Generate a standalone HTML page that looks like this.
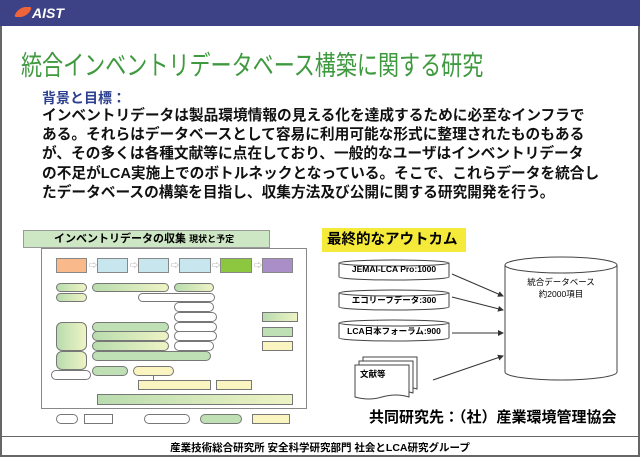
<!DOCTYPE html>
<html><head><meta charset="utf-8"><style>
*{margin:0;padding:0;box-sizing:border-box}
body{width:640px;height:457px;position:relative;background:#fff;font-family:"Liberation Sans","Noto Sans CJK JP",sans-serif;overflow:hidden}
.a{position:absolute}
.p{position:absolute;border:1px solid #777;border-radius:6px}
.g{background:linear-gradient(90deg,#b9dcae,#eef3c4)}
.gg{background:#bfe0b4}
.y{background:#faf5c0}
.w{background:#fff}
.r{border-radius:0}
</style></head><body>
<div class="a" style="left:0;top:0;width:640px;height:457px;border:2px solid #666"></div>
<div class="a" style="left:0;top:0;width:640px;height:26px;background:#3d4185"></div>
<div class="a" style="left:16px;top:7px;width:14px;height:10px;background:#f0643c;border-radius:8px 2px 8px 2px;transform:skewX(-20deg)"></div>
<div class="a" style="left:32px;top:5px;color:#fff;font-weight:bold;font-style:italic;font-size:14px">AIST</div>
<div class="a" style="left:21px;top:44px;color:#3f9a3f;font-size:27px;white-space:nowrap;transform:scaleX(0.78);transform-origin:0 0">統合インベントリデータベース構築に関する研究</div>
<div class="a" style="left:42px;top:88px;color:#2d3f8f;font-weight:bold;font-size:14px">背景と目標：</div>
<div class="a" style="left:42px;top:107px;font-size:14.7px;line-height:19.2px;font-weight:bold;color:#111;white-space:nowrap">インベントリデータは製品環境情報の見える化を達成するために必至なインフラで<br>ある。それらはデータベースとして容易に利用可能な形式に整理されたものもある<br>が、その多くは各種文献等に点在しており、一般的なユーザはインベントリデータ<br>の不足がLCA実施上でのボトルネックとなっている。そこで、これらデータを統合し<br>たデータベースの構築を目指し、収集方法及び公開に関する研究開発を行う。</div>

<div class="a" style="left:23px;top:230px;width:247px;height:18px;background:#cde6c4;border:1px solid #999;font-size:11px;font-weight:bold;padding-left:30px;line-height:17px;white-space:nowrap">インベントリデータの収集 <span style="font-size:9px">現状と予定</span></div>
<div class="a" style="left:41px;top:248px;width:266px;height:161px;border:1px solid #888"></div>
<div class="a" style="left:56px;top:258px;width:31px;height:15px;background:#f9b98a;border:1px solid #888"></div>
<div class="a" style="left:97px;top:258px;width:31px;height:15px;background:#c8e6ee;border:1px solid #888"></div>
<div class="a" style="left:138px;top:258px;width:31px;height:15px;background:#c8e6ee;border:1px solid #888"></div>
<div class="a" style="left:179px;top:258px;width:32px;height:15px;background:#c8e6ee;border:1px solid #888"></div>
<div class="a" style="left:220px;top:258px;width:32px;height:15px;background:#8dc63f;border:1px solid #888"></div>
<div class="a" style="left:262px;top:258px;width:31px;height:15px;background:#a98ec8;border:1px solid #888"></div>
<div class="a" style="left:89px;top:260px;font-size:8px;color:#888">⇨</div>
<div class="a" style="left:130px;top:260px;font-size:8px;color:#888">⇨</div>
<div class="a" style="left:171px;top:260px;font-size:8px;color:#888">⇨</div>
<div class="a" style="left:212px;top:260px;font-size:8px;color:#888">⇨</div>
<div class="a" style="left:254px;top:260px;font-size:8px;color:#888">⇨</div>

<div class="p g" style="left:56px;top:283px;width:31px;height:9px"></div>
<div class="p g" style="left:92px;top:283px;width:77px;height:9px"></div>
<div class="p g" style="left:174px;top:283px;width:40px;height:9px"></div>
<div class="p g" style="left:56px;top:293px;width:31px;height:9px"></div>
<div class="p w" style="left:138px;top:293px;width:77px;height:9px"></div>
<div class="p w" style="left:174px;top:302px;width:40px;height:10px"></div>
<div class="p w" style="left:174px;top:312px;width:43px;height:10px"></div>
<div class="p w" style="left:174px;top:322px;width:43px;height:10px"></div>
<div class="p w" style="left:174px;top:331px;width:43px;height:10px"></div>
<div class="p w" style="left:174px;top:341px;width:40px;height:10px"></div>
<div class="p g" style="left:56px;top:322px;width:31px;height:29px"></div>
<div class="p g" style="left:56px;top:351px;width:31px;height:19px"></div>
<div class="p gg" style="left:92px;top:322px;width:77px;height:10px"></div>
<div class="p g" style="left:92px;top:331px;width:77px;height:10px"></div>
<div class="p g" style="left:92px;top:341px;width:77px;height:10px"></div>
<div class="p gg" style="left:92px;top:351px;width:119px;height:10px"></div>
<div class="p w" style="left:51px;top:370px;width:40px;height:10px"></div>
<div class="p gg" style="left:92px;top:366px;width:36px;height:10px"></div>
<div class="p y" style="left:133px;top:366px;width:41px;height:10px"></div>
<div class="a" style="left:153px;top:376px;width:1px;height:5px;background:#777"></div>
<div class="p y r" style="left:138px;top:380px;width:73px;height:10px"></div>
<div class="p y r" style="left:216px;top:380px;width:36px;height:10px"></div>
<div class="p g r" style="left:97px;top:394px;width:196px;height:11px"></div>
<div class="p g r" style="left:262px;top:312px;width:36px;height:10px"></div>
<div class="p gg r" style="left:262px;top:327px;width:31px;height:10px"></div>
<div class="p y r" style="left:262px;top:341px;width:31px;height:10px"></div>
<div class="p w" style="left:56px;top:414px;width:22px;height:10px"></div>
<div class="p w r" style="left:84px;top:414px;width:29px;height:10px"></div>
<div class="p w" style="left:144px;top:414px;width:46px;height:10px"></div>
<div class="p gg" style="left:200px;top:414px;width:42px;height:10px"></div>
<div class="p y r" style="left:252px;top:414px;width:38px;height:10px"></div>

<div class="a" style="left:322px;top:228px;width:144px;height:24px;background:#f5e93a;font-weight:bold;font-size:14.5px;line-height:24px;padding-left:5px;white-space:nowrap">最終的なアウトカム</div>
<svg class="a" style="left:0;top:0" width="640" height="457">
<defs><marker id="m" markerWidth="6" markerHeight="6" refX="5" refY="3" orient="auto"><path d="M0,0L6,3L0,6z" fill="#333"/></marker></defs>
<g fill="#fff" stroke="#444" stroke-width="1">
<path d="M339,263 v14 a55,3 0 0 0 110,0 v-14"/><ellipse cx="394" cy="263" rx="55" ry="3"/>
<path d="M339,293 v14 a55,3 0 0 0 110,0 v-14"/><ellipse cx="394" cy="293" rx="55" ry="3"/>
<path d="M339,323 v15 a55,3 0 0 0 110,0 v-15"/><ellipse cx="394" cy="323" rx="55" ry="3"/>
<path d="M363,357 h54 v32 q-13,-4 -27,0 q-13,4 -27,0z"/>
<path d="M359,361 h54 v32 q-13,-4 -27,0 q-13,4 -27,0z"/>
<path d="M355,365 h54 v32 q-13,-4 -27,0 q-13,4 -27,0z"/>
<path d="M505,265 v107 a56,8 0 0 0 112,0 v-107"/><ellipse cx="561" cy="265" rx="56" ry="8"/>
</g>
<g stroke="#333" stroke-width="1" marker-end="url(#m)">
<line x1="452" y1="274" x2="503" y2="296"/><line x1="452" y1="297" x2="503" y2="310"/>
<line x1="452" y1="333" x2="503" y2="333"/><line x1="433" y1="380" x2="503" y2="356"/>
</g>
</svg>
<div class="a" style="left:339px;top:264px;width:110px;text-align:center;font-size:8.5px;font-weight:bold">JEMAI-LCA Pro:1000</div>
<div class="a" style="left:339px;top:294px;width:110px;text-align:center;font-size:8.5px;font-weight:bold">エコリーフデータ:300</div>
<div class="a" style="left:339px;top:325px;width:110px;text-align:center;font-size:8.5px;font-weight:bold">LCA日本フォーラム:900</div>
<div class="a" style="left:360px;top:368px;font-size:8.5px;font-weight:bold">文献等</div>
<div class="a" style="left:505px;top:276px;width:112px;text-align:center;font-size:8.5px;line-height:12px">統合データベース<br>約2000項目</div>
<div class="a" style="left:369px;top:406px;font-size:15px;font-weight:bold;white-space:nowrap">共同研究先：（社）産業環境管理協会</div>
<div class="a" style="left:2px;top:436px;width:636px;height:1px;background:#666"></div>
<div class="a" style="left:0;top:440px;width:640px;text-align:center;font-size:10.5px;font-weight:bold">産業技術総合研究所 安全科学研究部門 社会とLCA研究グループ</div>
</body></html>
